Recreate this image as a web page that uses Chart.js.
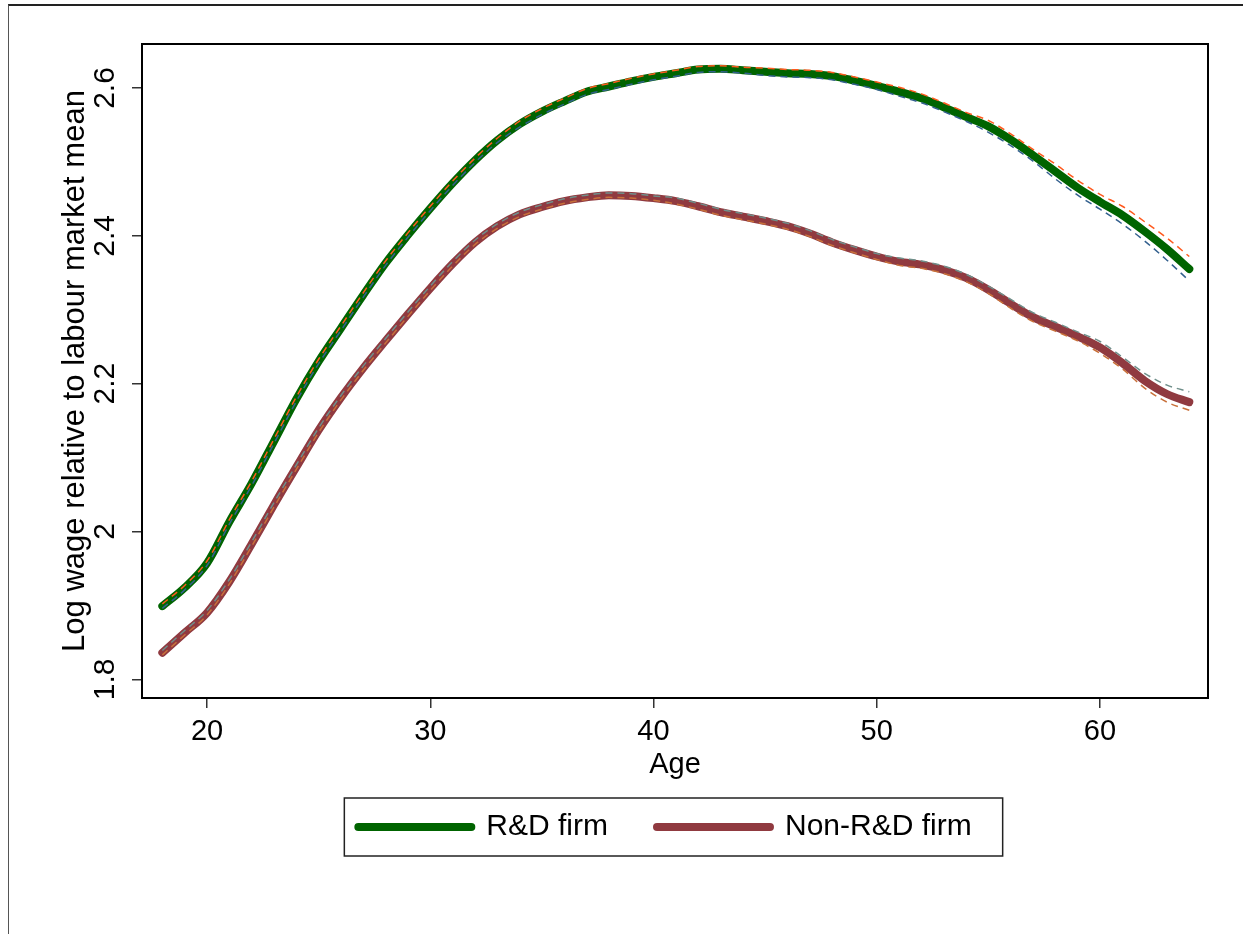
<!DOCTYPE html>
<html>
<head>
<meta charset="utf-8">
<script src="https://cdn.jsdelivr.net/npm/chart.js@4/dist/chart.umd.min.js"></script>
<style>
html,body{margin:0;padding:0;background:#fff;width:1243px;height:934px;overflow:hidden}
#frame{position:absolute;left:8px;top:4px;width:1240px;height:940px;border-top:2px solid #222;border-left:1.5px solid #555}
#wrap{position:absolute;left:0;top:0;width:1243px;height:934px}
</style>
</head>
<body>
<div id="frame"></div>
<div id="wrap"><canvas id="c" width="1243" height="934"></canvas></div>
<script>
// ---- data ----
const ages = [18,19,20,21,22,23,24,25,26,27,28,29,30,31,32,33,34,35,36,37,38,39,40,41,42,43,44,45,46,47,48,49,50,51,52,53,54,55,56,57,58,59,60,61,62,63,64];

const rdFirm = [1.899,1.924,1.957,2.013,2.065,2.122,2.179,2.230,2.275,2.320,2.363,2.401,2.437,2.471,2.502,2.529,2.551,2.568,2.582,2.595,2.602,2.609,2.615,2.620,2.625,2.626,2.624,2.622,2.620,2.619,2.616,2.610,2.603,2.595,2.586,2.574,2.561,2.548,2.530,2.509,2.487,2.465,2.446,2.428,2.406,2.382,2.355];
const rdUpper = [1.902,1.927,1.960,2.016,2.068,2.125,2.182,2.233,2.278,2.323,2.366,2.404,2.440,2.474,2.505,2.532,2.555,2.572,2.586,2.599,2.606,2.613,2.619,2.624,2.629,2.630,2.628,2.627,2.625,2.624,2.621,2.615,2.608,2.601,2.592,2.580,2.567,2.556,2.538,2.517,2.497,2.475,2.456,2.440,2.419,2.397,2.372];
const rdLower = [1.896,1.921,1.954,2.010,2.062,2.119,2.176,2.227,2.272,2.317,2.360,2.398,2.434,2.468,2.499,2.526,2.547,2.564,2.578,2.591,2.598,2.605,2.611,2.616,2.621,2.622,2.620,2.617,2.615,2.614,2.611,2.605,2.598,2.589,2.580,2.568,2.555,2.540,2.522,2.501,2.477,2.455,2.436,2.416,2.393,2.367,2.339];

const nonRdFirm = [1.836,1.863,1.890,1.932,1.983,2.036,2.087,2.137,2.181,2.221,2.258,2.294,2.329,2.362,2.391,2.413,2.429,2.439,2.447,2.452,2.455,2.454,2.451,2.447,2.440,2.432,2.426,2.420,2.413,2.403,2.391,2.381,2.372,2.365,2.361,2.354,2.343,2.327,2.308,2.290,2.277,2.264,2.249,2.228,2.204,2.186,2.175];
const nonRdUpper = [1.839,1.866,1.893,1.935,1.986,2.039,2.090,2.140,2.184,2.224,2.261,2.297,2.332,2.365,2.394,2.416,2.432,2.442,2.450,2.455,2.458,2.457,2.454,2.451,2.444,2.436,2.430,2.424,2.417,2.407,2.395,2.385,2.376,2.370,2.366,2.359,2.348,2.332,2.314,2.296,2.283,2.270,2.257,2.236,2.214,2.198,2.189];
const nonRdLower = [1.833,1.860,1.887,1.929,1.980,2.033,2.084,2.134,2.178,2.218,2.255,2.291,2.326,2.359,2.388,2.410,2.426,2.436,2.444,2.449,2.452,2.451,2.448,2.443,2.436,2.428,2.422,2.416,2.409,2.399,2.387,2.377,2.368,2.360,2.356,2.349,2.338,2.322,2.302,2.284,2.271,2.258,2.241,2.220,2.194,2.175,2.164];

const xTicks = [20,30,40,50,60];
const yTicks = [1.8,2.0,2.2,2.4,2.6];
const yTickLabels = ['1.8','2','2.2','2.4','2.6'];
const seriesNames = ['R&D firm','Non-R&D firm'];
const xTitle = 'Age';
const yTitle = 'Log wage relative to labour market mean';

// ---- chart ----
const FAMILY = '"Liberation Sans", Arial, Helvetica, sans-serif';
Chart.defaults.font.family = FAMILY;
Chart.defaults.color = '#000';

const pts = arr => ages.map((a, i) => ({x: a, y: arr[i]}));

const mainLine = (label, arr, color) => ({
  label, data: pts(arr), borderColor: color, backgroundColor: color,
  borderWidth: 8, borderCapStyle: 'round', borderJoinStyle: 'round',
  pointRadius: 0, cubicInterpolationMode: 'monotone', fill: false, order: 2
});
const ciLine = (label, arr, color) => ({
  label, data: pts(arr), borderColor: color, backgroundColor: color,
  borderWidth: 1.5, borderDash: [7, 5], pointRadius: 0,
  cubicInterpolationMode: 'monotone', fill: false, order: 1
});

const frames = {
  id: 'frames',
  afterLayout(chart) {
    const lg = chart.legend;
    lg.top -= 19; lg.bottom -= 19;
    lg.left -= 10; lg.right -= 10;
  },
  afterDraw(chart) {
    const ctx = chart.ctx, a = chart.chartArea;
    ctx.save();
    ctx.strokeStyle = '#000';
    ctx.lineWidth = 2;
    ctx.strokeRect(a.left, a.top, a.right - a.left, a.bottom - a.top);
    const hb = chart.legend.legendHitBoxes;
    if (hb && hb.length) {
      const first = hb[0], last = hb[hb.length - 1];
      const cy = first.top + 15;
      const l = first.left - 14, r = last.left + last.width + 31;
      ctx.lineWidth = 1.5;
      ctx.strokeStyle = '#222';
      ctx.strokeRect(l, cy - 29, r - l, 58);
    }
    ctx.restore();
  }
};

new Chart(document.getElementById('c'), {
  type: 'line',
  data: {
    datasets: [
      mainLine(seriesNames[0], rdFirm, '#006400'),
      mainLine(seriesNames[1], nonRdFirm, '#903a40'),
      ciLine('R&D upper', rdUpper, '#ff5a1e'),
      ciLine('R&D lower', rdLower, '#33608e'),
      ciLine('Non-R&D upper', nonRdUpper, '#6f8f8a'),
      ciLine('Non-R&D lower', nonRdLower, '#c8703a')
    ]
  },
  plugins: [frames],
  options: {
    responsive: false,
    animation: false,
    devicePixelRatio: 1,
    layout: {padding: {left: 57, top: 44, right: 35, bottom: 63}},
    plugins: {
      tooltip: {enabled: false},
      legend: {
        position: 'bottom',
        fullSize: false,
        labels: {
          generateLabels: chart => Chart.defaults.plugins.legend.labels.generateLabels(chart)
            .map(it => Object.assign(it, {lineCap: 'round', lineWidth: 8, strokeStyle: chart.data.datasets[it.datasetIndex].borderColor})),
          filter: item => item.datasetIndex < 2,
          usePointStyle: true,
          pointStyle: 'line',
          pointStyleWidth: 113,
          padding: 49,
          color: '#000',
          font: {size: 30, family: FAMILY}
        }
      }
    },
    scales: {
      x: {
        type: 'linear',
        min: 17.088,
        max: 64.838,
        afterBuildTicks: s => { s.ticks = xTicks.map(v => ({value: v})); },
        afterFit: s => { s.height = 84; },
        ticks: {font: {size: 29}, color: '#000', padding: 7, maxRotation: 0, autoSkip: false},
        grid: {display: true, drawOnChartArea: false, drawTicks: true, tickLength: 10, color: '#333', lineWidth: 1.5},
        border: {display: true, color: '#000', width: 2},
        title: {display: true, text: xTitle, color: '#000', font: {size: 29}, padding: {top: 0, bottom: 0}}
      },
      y: {
        type: 'linear',
        min: 1.7747,
        max: 2.6595,
        afterBuildTicks: s => { s.ticks = yTicks.map(v => ({value: v})); },
        afterFit: s => { s.width = 85; },
        ticks: {
          font: {size: 30}, color: '#000', padding: 5,
          minRotation: 90, maxRotation: 90, crossAlign: 'center', autoSkip: false,
          callback: (v, i) => yTickLabels[i]
        },
        grid: {display: true, drawOnChartArea: false, drawTicks: true, tickLength: 10, color: '#333', lineWidth: 1.5},
        border: {display: true, color: '#000', width: 2},
        title: {display: true, text: yTitle, color: '#000', font: {size: 31}, padding: {top: 0, bottom: 0}}
      }
    }
  }
});
</script>
</body>
</html>
